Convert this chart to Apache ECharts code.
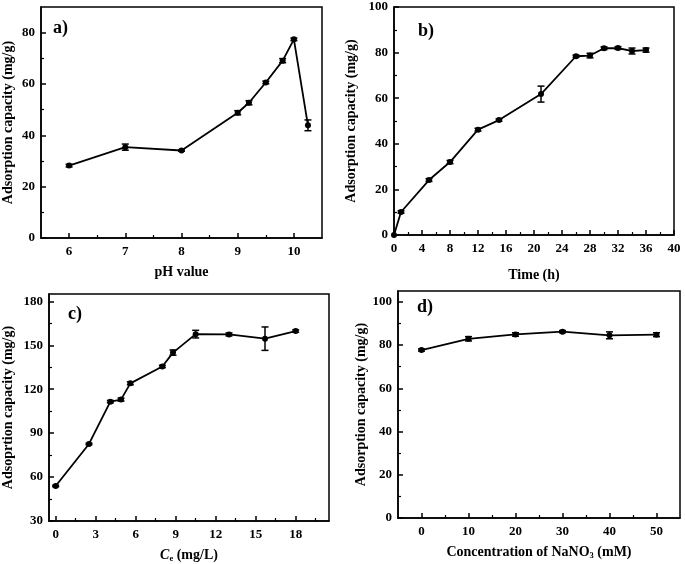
<!DOCTYPE html>
<html><head><meta charset="utf-8">
<script src="https://cdn.jsdelivr.net/npm/echarts@6/dist/echarts.min.js"></script>
<style>html,body{margin:0;padding:0;background:#fff}#c{width:685px;height:564px}</style>
</head><body><div id="c"></div>
<script>
// Panel a) pH
const phX = [6, 7, 8, 9, 9.2, 9.5, 9.8, 10, 10.25];
const phY = [28.2, 35.4, 34.1, 48.8, 52.7, 60.6, 69.1, 77.4, 43.9];
const phErr = [0.5, 1.2, 0.3, 0.8, 0.8, 0.5, 0.8, 0.5, 2.1];
// Panel b) time
const timeX = [0, 1, 5, 8, 12, 15, 21, 26, 28, 30, 32, 34, 36];
const timeY = [0, 10.1, 24.1, 32.0, 46.2, 50.4, 61.8, 78.4, 78.7, 81.9, 82.0, 80.7, 81.1];
const timeErr = [0, 0.5, 0.6, 0.7, 0.6, 0.5, 3.5, 0.5, 1.0, 0.6, 0.6, 1.3, 0.9];
// Panel c) Ce
const ceX = [0, 2.5, 4.1, 4.9, 5.6, 8.0, 8.8, 10.5, 13, 15.7, 18];
const ceY = [53.9, 82.6, 111.5, 112.9, 124.0, 135.5, 145.0, 157.6, 157.4, 154.5, 159.7];
const ceErr = [0.5, 0.5, 0.8, 1.0, 1.0, 0.8, 1.8, 2.6, 1.0, 8.0, 0.8];
// Panel d) NaNO3
const naX = [0, 10, 20, 30, 40, 50];
const naY = [77.7, 82.9, 84.9, 86.2, 84.5, 84.8];
const naErr = [0.5, 1.0, 0.8, 0.5, 1.6, 0.9];

// tick labels
const aXTicks = [6, 7, 8, 9, 10], aXMinor = [6.5, 7.5, 8.5, 9.5];
const aYTicks = [0, 20, 40, 60, 80], aYMinor = [10, 30, 50, 70];
const bXTicks = [0, 4, 8, 12, 16, 20, 24, 28, 32, 36, 40], bXMinor = [2, 6, 10, 14, 18, 22, 26, 30, 34, 38];
const bYTicks = [0, 20, 40, 60, 80, 100], bYMinor = [10, 30, 50, 70, 90];
const cXTicks = [0, 3, 6, 9, 12, 15, 18], cXMinor = [1.5, 4.5, 7.5, 10.5, 13.5, 16.5, 19.5];
const cYTicks = [30, 60, 90, 120, 150, 180], cYMinor = [45, 75, 105, 135, 165];
const dXTicks = [0, 10, 20, 30, 40, 50], dXMinor = [5, 15, 25, 35, 45];
const dYTicks = [0, 20, 40, 60, 80, 100], dYMinor = [10, 30, 50, 70, 90];

const FONT = '"Liberation Serif", "Times New Roman", serif';
const panels = [
  {grid: {left: 36, top: 7, width: 286, height: 231}, xr: [5.5, 10.5], yr: [0, 90],
   xt: aXTicks, xm: aXMinor, yt: aYTicks, ym: aYMinor, x: phX, y: phY, e: phErr,
   xname: 'pH value', xgap: 27, yname: 'Adsorption capacity (mg/g)', ygap: 26, label: 'a)', lx: 53, ly: 29},
  {grid: {left: 394, top: 7, width: 280, height: 228}, xr: [0, 40], yr: [0, 100],
   xt: bXTicks, xm: bXMinor, yt: bYTicks, ym: bYMinor, x: timeX, y: timeY, e: timeErr,
   xname: 'Time (h)', xgap: 33, yname: 'Adsorption capacity (mg/g)', ygap: 36, label: 'b)', lx: 418, ly: 32},
  {grid: {left: 48, top: 294, width: 281, height: 228}, xr: [-0.5, 20.5], yr: [30, 185],
   xt: cXTicks, xm: cXMinor, yt: cYTicks, ym: cYMinor, x: ceX, y: ceY, e: ceErr,
   xname: '{i|C}{s|e} (mg/L)', xgap: 26, yname: 'Adsoprtion capacity (mg/g)', ygap: 34, label: 'c)', lx: 68, ly: 315},
  {grid: {left: 398, top: 291, width: 282, height: 227}, xr: [-5, 55], yr: [0, 105],
   xt: dXTicks, xm: dXMinor, yt: dYTicks, ym: dYMinor, x: naX, y: naY, e: naErr,
   xname: 'Concentration of NaNO{s|3} (mM)', xgap: 26, yname: 'Adsorption capacity (mg/g)', ygap: 29, label: 'd)', lx: 417, ly: 308}
];

const labelStyle = {color: '#000', fontFamily: FONT, fontWeight: 'bold', fontSize: 13};
const nameStyle = {color: '#000', fontFamily: FONT, fontWeight: 'bold', fontSize: 14,
  rich: {
    i: {fontFamily: FONT, fontWeight: 'bold', fontStyle: 'italic', fontSize: 14, color: '#000'},
    s: {fontFamily: FONT, fontWeight: 'bold', fontSize: 8.5, color: '#000', padding: [7, 0, 0, 0]}
  }};

const grids = [], xAxes = [], yAxes = [], series = [], graphics = [];
panels.forEach((p, i) => {
  grids.push(Object.assign({show: true, borderColor: '#000', borderWidth: 1.5, backgroundColor: 'transparent'}, p.grid));
  const mainX = 2 * i, mainY = 2 * i;
  xAxes.push({type: 'value', gridIndex: i, position: 'bottom', offset: 0, min: p.xr[0], max: p.xr[1],
    axisLine: {show: true, onZero: false, lineStyle: {color: '#000', width: 1.5}},
    axisTick: {show: true, inside: true, length: 5, customValues: p.xt, lineStyle: {color: '#000', width: 1.5}},
    axisLabel: {show: true, customValues: p.xt, margin: 7, ...labelStyle},
    splitLine: {show: false},
    name: p.xname, nameLocation: 'middle', nameGap: p.xgap, nameTextStyle: nameStyle});
  xAxes.push({type: 'value', gridIndex: i, position: 'bottom', offset: 0, min: p.xr[0], max: p.xr[1],
    axisLine: {show: false, onZero: false},
    axisTick: {show: true, inside: true, length: 3, customValues: p.xm, lineStyle: {color: '#000', width: 1.2}},
    axisLabel: {show: false}, splitLine: {show: false}});
  yAxes.push({type: 'value', gridIndex: i, position: 'left', offset: 0, min: p.yr[0], max: p.yr[1],
    axisLine: {show: true, onZero: false, lineStyle: {color: '#000', width: 1.5}},
    axisTick: {show: true, inside: true, length: 5, customValues: p.yt, lineStyle: {color: '#000', width: 1.5}},
    axisLabel: {show: true, customValues: p.yt, margin: 6, ...labelStyle},
    splitLine: {show: false},
    name: p.yname, nameLocation: 'middle', nameGap: p.ygap, nameTextStyle: nameStyle});
  yAxes.push({type: 'value', gridIndex: i, position: 'left', offset: 0, min: p.yr[0], max: p.yr[1],
    axisLine: {show: false, onZero: false},
    axisTick: {show: true, inside: true, length: 3, customValues: p.ym, lineStyle: {color: '#000', width: 1.2}},
    axisLabel: {show: false}, splitLine: {show: false}});
  const pts = p.x.map((xv, k) => [xv, p.y[k]]);
  series.push({type: 'line', xAxisIndex: mainX, yAxisIndex: mainY, data: pts,
    symbol: 'circle', symbolSize: 6, itemStyle: {color: '#000'},
    lineStyle: {color: '#000', width: 1.8}, animation: false, z: 3});
  const errData = p.x.map((xv, k) => [xv, p.y[k], p.e[k]]);
  series.push({type: 'custom', xAxisIndex: mainX, yAxisIndex: mainY, data: errData,
    encode: {x: 0, y: 1}, animation: false, z: 4,
    renderItem: function (params, api) {
      const xv = api.value(0), yv = api.value(1), ev = api.value(2);
      if (!ev) return null;
      const top = api.coord([xv, yv + ev]);
      const bot = api.coord([xv, yv - ev]);
      const w = 3.5;
      const st = {stroke: '#000', lineWidth: 1.5};
      return {type: 'group', children: [
        {type: 'line', shape: {x1: top[0], y1: top[1], x2: bot[0], y2: bot[1]}, style: st},
        {type: 'line', shape: {x1: top[0] - w, y1: top[1], x2: top[0] + w, y2: top[1]}, style: st},
        {type: 'line', shape: {x1: bot[0] - w, y1: bot[1], x2: bot[0] + w, y2: bot[1]}, style: st}
      ]};
    }});
  graphics.push({type: 'text', left: p.lx, top: p.ly - 10,
    style: {text: p.label, font: 'bold 18px ' + FONT, fill: '#000'}});
});

const chart = echarts.init(document.getElementById('c'), null, {renderer: 'canvas'});
chart.setOption({
  animation: false,
  backgroundColor: '#fff',
  grid: grids, xAxis: xAxes, yAxis: yAxes, series: series, graphic: graphics
});
</script></body></html>
